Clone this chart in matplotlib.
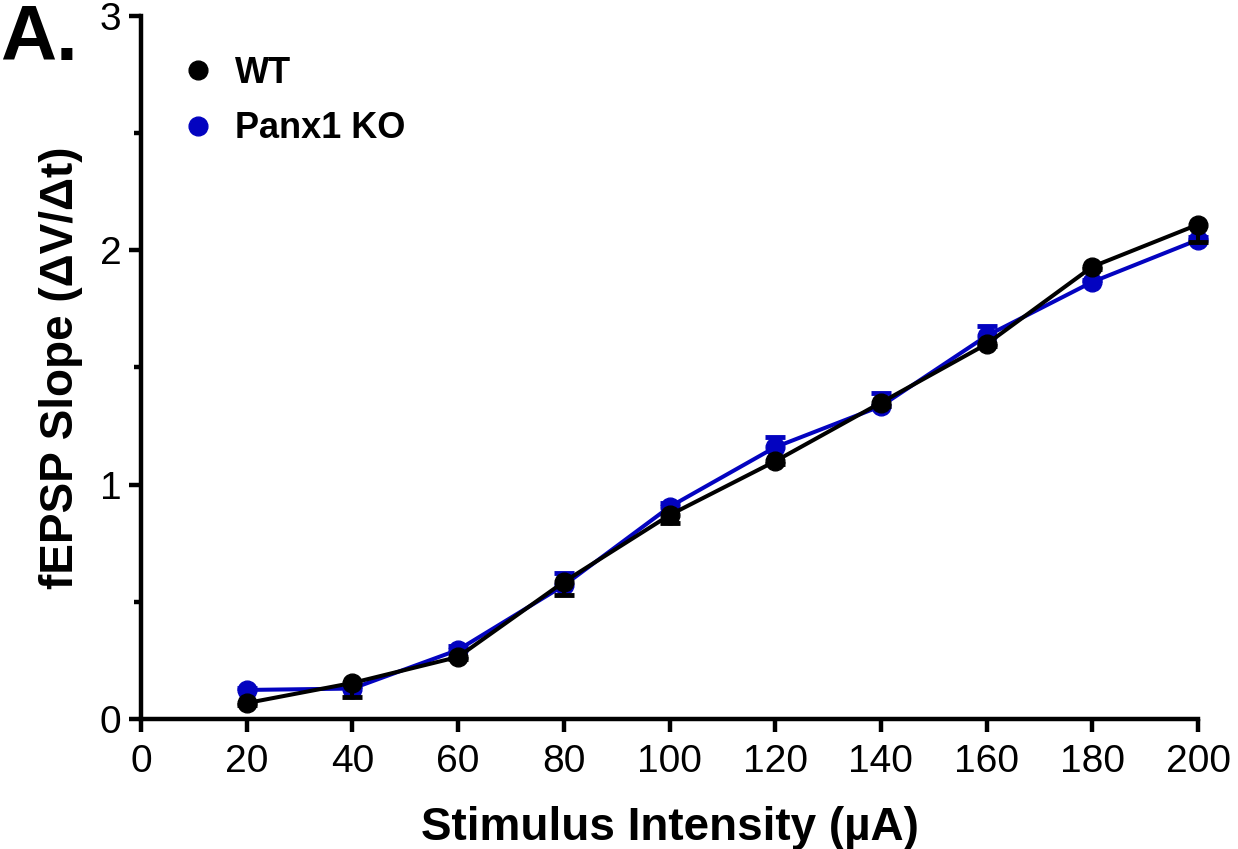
import matplotlib
matplotlib.use("Agg")
import matplotlib.pyplot as plt
from matplotlib.lines import Line2D
from matplotlib.ticker import MultipleLocator

# values
intensity = [20, 40, 60, 80, 100, 120, 140, 160, 180, 200]
wt_slope = [0.068, 0.154, 0.265, 0.585, 0.87, 1.10, 1.35, 1.60, 1.93, 2.11]
wt_sem = [0.01, 0.06, 0.01, 0.055, 0.035, 0.01, 0.015, 0.01, 0.01, 0.075]
ko_slope = [0.124, 0.13, 0.295, 0.57, 0.905, 1.16, 1.335, 1.635, 1.865, 2.045]
ko_sem = [0.01, 0.01, 0.015, 0.055, 0.015, 0.045, 0.055, 0.04, 0.01, 0.01]

blue = "#0303C0"
plt.rcParams['font.family'] = ['Liberation Sans', 'DejaVu Sans']

fig = plt.figure(figsize=(12.38, 8.49), dpi=100)
ax = fig.add_axes([0.1139, 0.1531, 0.8538, 0.8281])

lw = 2.9
zeros = [0] * len(intensity)
# graphpad style: WT error shown below only, KO above only
_, wt_caps, _ = ax.errorbar(intensity, wt_slope, yerr=[wt_sem, zeros], color="black",
                            lw=lw, marker="o", ms=13.5, capsize=7, capthick=3.5,
                            elinewidth=lw, zorder=3)
wt_caps[1].set_visible(False)
_, ko_caps, _ = ax.errorbar(intensity, ko_slope, yerr=[zeros, ko_sem], color=blue,
                            lw=lw, marker="o", ms=13.5, capsize=7, capthick=3.5,
                            elinewidth=lw, zorder=2)
ko_caps[0].set_visible(False)

ax.set_xlim(0, 200)
ax.set_ylim(0, 3)
ax.xaxis.set_major_locator(MultipleLocator(20))
ax.yaxis.set_major_locator(MultipleLocator(1))
ax.yaxis.set_minor_locator(MultipleLocator(0.5))

for s in ["top", "right"]:
    ax.spines[s].set_visible(False)
for s in ["left", "bottom"]:
    ax.spines[s].set_linewidth(3.2)
ax.tick_params(axis="both", which="major", direction="out", length=9, width=3.2,
               labelsize=28)
ax.tick_params(axis="x", which="major", pad=9)
ax.tick_params(axis="y", which="major", pad=5)
ax.tick_params(axis="y", which="minor", direction="out", length=5, width=3.2)
for art in ax.get_children():
    art.set_clip_on(False)

ax.set_xlabel("Stimulus Intensity (µA)", fontsize=33, fontweight="bold", labelpad=19)
ax.set_ylabel("fEPSP Slope (ΔV/Δt)", fontsize=33, fontweight="bold", labelpad=12)

handles = [Line2D([], [], ls="none", marker="o", ms=13.5, color="black"),
           Line2D([], [], ls="none", marker="o", ms=13.5, color=blue)]
ax.legend(handles, ["WT", "Panx1 KO"], loc="upper left",
          bbox_to_anchor=(0.126, 0.951), bbox_transform=fig.transFigure,
          borderaxespad=0, frameon=False, handlelength=1.5, handletextpad=0.3,
          labelspacing=0.56, prop={"weight": "bold", "size": 26})

fig.text(0.0, 0.9965, "A.", fontsize=56, fontweight="bold", va="top", ha="left")

fig.savefig("out.png", dpi=100)
